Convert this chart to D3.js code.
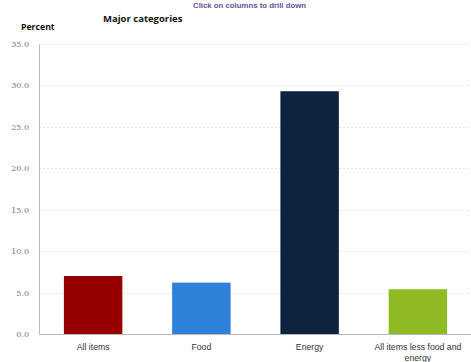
<!DOCTYPE html>
<html>
<head>
<meta charset="utf-8">
<script src="https://cdn.jsdelivr.net/npm/d3@7"></script>
<style>
  body { margin: 0; background: #fff; }
  svg { display: block; }
</style>
</head>
<body>
<div id="chart"></div>
<script>
// chart data
var categories = ["All items", "Food", "Energy", "All items less food and energy"];
var values = [7.0, 6.2, 29.3, 5.4];
var barColors = ["#960000", "#2f80d8", "#0e2340", "#8fba24"];
var yTicks = [0, 5, 10, 15, 20, 25, 30, 35];

var W = 471, H = 362;
var margin = {top: 44, right: -1, bottom: 28, left: 39};

var svg = d3.select("#chart").append("svg")
  .attr("width", W)
  .attr("height", H);

var x = d3.scaleBand()
  .domain(categories)
  .range([margin.left, W - margin.right])
  .paddingInner(0.46)
  .paddingOuter(0.23);

var y = d3.scaleLinear()
  .domain([0, 35])
  .range([H - margin.bottom, margin.top]);

// gridlines
svg.append("g")
  .selectAll("line")
  .data(yTicks.filter(function(d) { return d > 0; }))
  .join("line")
    .attr("x1", margin.left)
    .attr("x2", W)
    .attr("y1", function(d) { return Math.round(y(d)) + 0.5; })
    .attr("y2", function(d) { return Math.round(y(d)) + 0.5; })
    .attr("stroke", "#e6e6e6")
    .attr("stroke-dasharray", "2,2");

// bars
svg.append("g")
  .selectAll("rect")
  .data(values)
  .join("rect")
    .attr("x", function(d, i) { return x(categories[i]); })
    .attr("y", function(d) { return y(d); })
    .attr("width", x.bandwidth())
    .attr("height", function(d) { return y(0) - y(d); })
    .attr("fill", function(d, i) { return barColors[i]; });

// y axis
var yAxis = svg.append("g")
  .attr("transform", "translate(" + margin.left + ",0)")
  .call(d3.axisLeft(y).tickValues(yTicks).tickSize(0).tickPadding(10)
    .tickFormat(d3.format(".1f")));
yAxis.select(".domain").attr("stroke", "#b8b8b8");
yAxis.selectAll("text")
  .attr("font-family", "DejaVu Serif, serif")
  .attr("font-size", "8px")
  .attr("fill", "#777");

// x axis
var xAxis = svg.append("g")
  .attr("transform", "translate(0," + y(0) + ")")
  .call(d3.axisBottom(x).tickSize(0).tickPadding(10));
xAxis.select(".domain").attr("stroke", "#b8b8b8");
xAxis.selectAll("text")
  .attr("font-family", "Liberation Sans, Arial, sans-serif")
  .attr("font-size", "8.7px")
  .attr("fill", "#333")
  .each(function(d) {
    // wrap long label in two lines
    var t = d3.select(this);
    if (d.length > 20) {
      t.text(null);
      t.append("tspan").attr("x", 0).attr("dy", "0.71em").text("All items less food and");
      t.append("tspan").attr("x", 0).attr("dy", "1.3em").text("energy");
      t.attr("dy", null);
    }
  });

// titles
svg.append("text")
  .attr("x", 193)
  .attr("y", 8)
  .attr("font-family", "Liberation Sans, Arial, sans-serif")
  .attr("font-size", "7.8px")
  .attr("font-weight", "bold")
  .attr("fill", "#6b4f96")
  .text("Click on columns to drill down");

svg.append("text")
  .attr("x", 103)
  .attr("y", 22)
  .attr("font-family", "Open Sans, sans-serif")
  .attr("font-size", "9.5px")
  .attr("font-weight", "bold")
  .attr("fill", "#111")
  .text("Major categories");

svg.append("text")
  .attr("x", 21)
  .attr("y", 30)
  .attr("font-family", "Open Sans, sans-serif")
  .attr("font-size", "8.7px")
  .attr("font-weight", "bold")
  .attr("fill", "#111")
  .text("Percent");
</script>
</body>
</html>
